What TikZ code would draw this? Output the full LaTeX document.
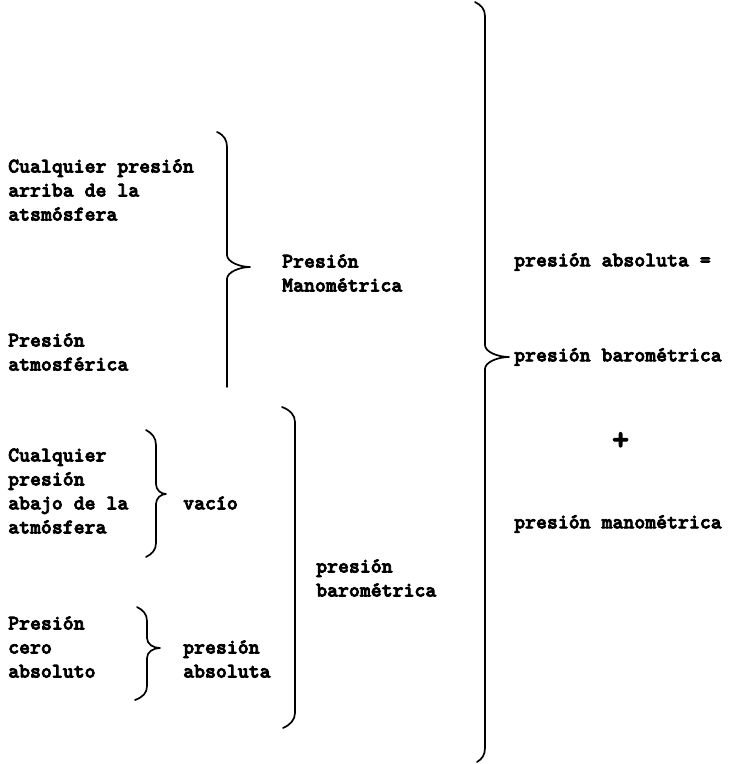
\documentclass[tikz,border=0pt]{standalone}
\usepackage{fontspec}
\setmonofont{lmmonolt10-regular.otf}[BoldFont=lmmonolt10-bold.otf, BoldFeatures={FakeBold=3.5}]
\usetikzlibrary{positioning}

\begin{document}
\begin{tikzpicture}[
    x=1pt, y=-1pt,
    txt/.style={anchor=west, align=left, inner sep=0pt,
                font=\fontsize{20.8}{24}\selectfont\ttfamily\bfseries},
    brc/.style={line width=1.7pt, line cap=round, line join=round}
]
\useasboundingbox (0,0) rectangle (729,764);

% left column
\node (arriba) at (8,190) [txt] {Cualquier presión\\arriba de la\\atsmósfera};
\node (atmos) at (8,352) [txt] {Presión\\atmosférica};
\node (abajo) at (8,491) [txt] {Cualquier\\presión\\abajo de la\\atmósfera};
\node (cero) at (8,647) [txt] {Presión\\cero\\absoluto};

% middle column
\node (mano) at (282,273) [txt] {Presión\\Manométrica};
\node (vacio) at (183,503) [txt] {vacío};
\node (absol) at (183,659) [txt] {presión\\absoluta};
\node (baro) at (316,578) [txt] {presión\\barométrica};

% right column
\node (igual) at (514,262) [txt] {presión absoluta =};
\node (baroR) at (514,357) [txt] {presión barométrica};
\node (mas) at (612,441) [txt, font=\fontsize{32}{32}\selectfont\ttfamily\bfseries] {+};
\node (manoR) at (514,524) [txt] {presión manométrica};

% Presion Manometrica brace
\draw[brc] (217,132) .. controls (224,135) and (227,140) .. (227,147)
    -- (227,255) .. controls (227,262) and (240,267) .. (250,267)
    .. controls (240,267) and (227,272) .. (227,279) -- (227,387);

% vacio brace
\draw[brc] (146,430) .. controls (152,433) and (156,438) .. (156,445)
    -- (156,484) .. controls (156,490) and (161,494) .. (166,494)
    .. controls (161,494) and (156,498) .. (156,504)
    -- (156,543) .. controls (156,550) and (152,554) .. (146,557);

% presion absoluta brace
\draw[brc] (137,607) .. controls (143,610) and (147,614) .. (147,621)
    -- (147,638) .. controls (147,644) and (153,648) .. (160,648)
    .. controls (153,648) and (147,652) .. (147,658)
    -- (147,686) .. controls (147,693) and (143,697) .. (135,700);

% presion barometrica brace
\draw[brc] (282,407) .. controls (290,410) and (295,415) .. (295,422)
    -- (295,713) .. controls (295,720) and (290,725) .. (283,728);

% big brace
\draw[brc] (475,2) .. controls (481,5) and (485,9) .. (485,16)
    -- (485,345) .. controls (485,352) and (498,357) .. (509,357)
    .. controls (498,357) and (485,362) .. (485,369)
    -- (485,748) .. controls (485,755) and (482,759) .. (477,762);
\end{tikzpicture}
\end{document}
